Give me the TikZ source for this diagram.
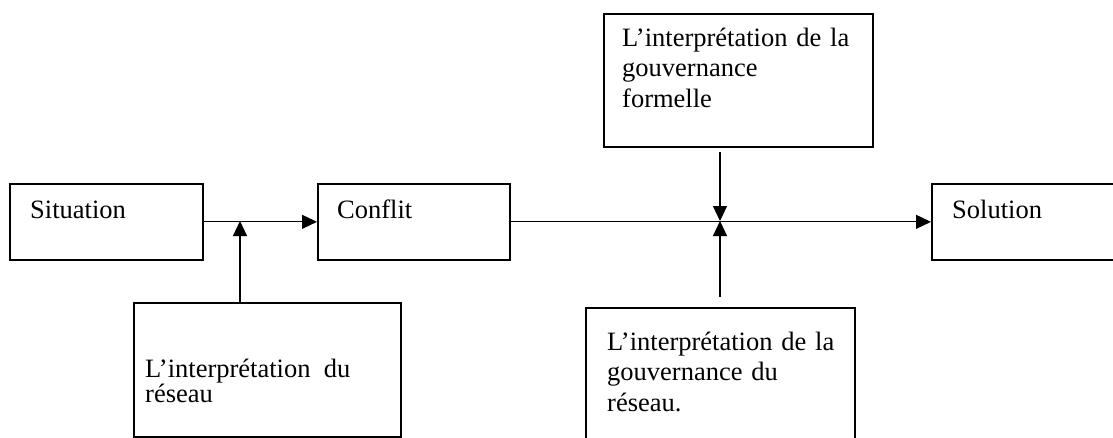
\documentclass[tikz,border=0pt]{standalone}
\usepackage{fontspec}
\setmainfont{Liberation Serif}
\usetikzlibrary{arrows.meta}
\begin{document}
\begin{tikzpicture}[x=1pt,y=-1pt,
  box/.style={draw, line width=1.7pt, rectangle, inner sep=0pt, anchor=north west},
  lbl/.style={anchor=base west, inner sep=0pt, font=\fontsize{26.5}{30.5}\selectfont, text width=260pt, align=left},
  lbltight/.style={lbl, font=\fontsize{26.5}{23.5}\selectfont},
  conn/.style={line width=1.1pt, -{Triangle[length=15pt,width=14pt]}}]
\useasboundingbox (0,0) rectangle (1113,437);
% boxes
\node[box, minimum width=193pt, minimum height=76pt] (sit) at (9,183) {};
\node[box, minimum width=192pt, minimum height=76pt] (conf) at (317,183) {};
\node[box, minimum width=220pt, minimum height=76pt] (sol) at (931,183) {};
\node[box, minimum width=269pt, minimum height=133pt] (top) at (603,13) {};
\node[box, minimum width=269pt, minimum height=160pt] (br) at (585,307) {};
\node[box, minimum width=267pt, minimum height=134pt] (bl) at (133,302) {};
% labels
\node[lbl] (tsit) at (30,218) {Situation};
\node[lbl] (tconf) at (337,218) {Conflit};
\node[lbl] (tsol) at (952,218) {Solution};
\node[lbl] (ttop) at (622,46) {L’interprétation de la\\gouvernance\\formelle};
\node[lbl] (tbr) at (607,350) {L’interprétation de la\\gouvernance du\\réseau.};
\node[lbltight] (tbl) at (145,377.5) {L’interprétation\hspace{0.5em}du\\réseau};
% junctions
\coordinate (j1) at (240,221);
\coordinate (j2) at (720,221);
\coordinate (topend) at (720,152);
\coordinate (brend) at (720,297);
% connectors
\draw[conn] (sit.east) -- (conf.west);
\draw[conn] (conf.east) -- (sol.west);
\draw[conn] (j1 |- bl.north) -- (j1);
\draw[conn] (topend) -- (j2);
\draw[conn] (brend) -- (j2);
\end{tikzpicture}
\end{document}
